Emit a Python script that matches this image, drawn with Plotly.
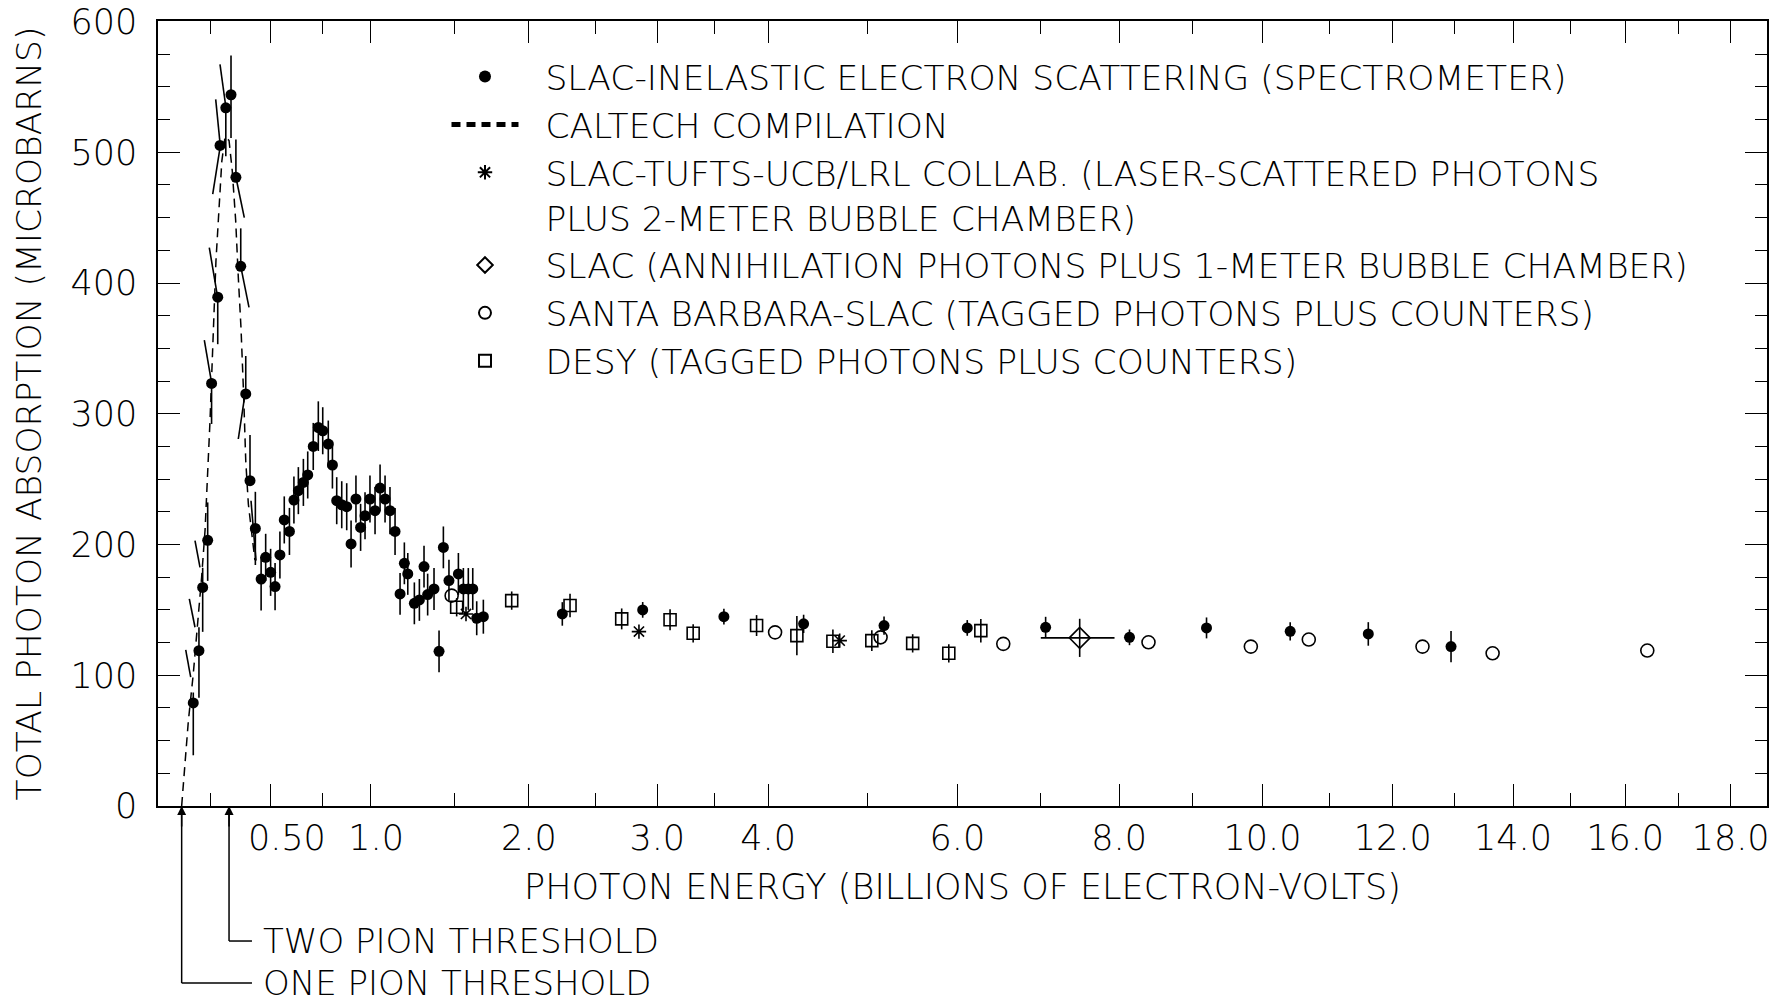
import numpy as np
import plotly.graph_objects as go

# ---------------- data (photon energy E in GeV, cross section in microbarns) ----------------
slac_E = [0.187, 0.208, 0.222, 0.241, 0.256, 0.280, 0.289, 0.312, 0.333, 0.353, 0.373, 0.394,
          0.412, 0.435, 0.460, 0.480, 0.502, 0.522, 0.544, 0.564, 0.588, 0.609, 0.630, 0.654,
          0.675, 0.702, 0.727, 0.749, 0.777, 0.798, 0.820, 0.846, 0.872, 0.895, 0.921, 0.946,
          0.970, 0.997, 1.025, 1.053, 1.081, 1.109, 1.138, 1.167, 1.192, 1.212, 1.251, 1.281,
          1.309, 1.331, 1.370, 1.401, 1.428, 1.463, 1.523, 1.555, 1.587, 1.616, 1.642, 1.686,
          2.244, 2.878, 3.586, 4.347, 5.181, 6.114, 7.058, 8.138, 9.194, 10.41, 11.61, 12.95]
slac_sig = [78.8, 118.8, 167.2, 203.2, 323.2, 389.2, 505.2, 534.0, 544.0, 480.8, 412.8, 315.2,
            248.8, 212.3, 173.6, 190.2, 178.7, 167.8, 192.0, 218.8, 210.0, 234.0, 241.2, 247.5,
            253.2, 275.0, 289.5, 287.0, 276.8, 260.8, 233.5, 230.4, 228.9, 200.4, 234.8, 213.1,
            222.0, 234.8, 225.9, 243.2, 234.8, 225.9, 210.0, 162.2, 185.6, 177.5, 155.0, 157.6,
            183.1, 161.7, 166.0, 118.3, 197.8, 172.4, 177.5, 166.0, 166.0, 166.0, 143.6, 144.8,
            146.9, 150.0, 144.8, 139.3, 138.0, 136.2, 136.7, 129.0, 136.2, 133.6, 131.6, 121.9]
slac_err_up = [8, 18, 15, 29, 0, 0, 0, 0, 30, 29, 29, 29,
               35, 28, 17, 18, 18, 18, 18, 18, 18, 18, 18, 18,
               18, 18, 20, 18, 18, 18, 18, 18, 18, 18, 18, 18,
               18, 18, 18, 18, 18, 18, 18, 16, 16, 16, 16, 16,
               16, 16, 16, 16, 16, 16, 16, 16, 16, 16, 13, 13,
               9, 6, 6, 7, 7, 6, 8, 6, 8, 7, 9, 12]
slac_err_dn = [40, 36, 34, 31, 31, 36, 0, 37, 33, 0, 0, 0,
               0, 28, 24, 18, 18, 18, 18, 18, 18, 18, 18, 18,
               18, 18, 18, 18, 18, 18, 18, 18, 18, 18, 18, 18,
               18, 18, 18, 18, 18, 18, 18, 16, 16, 16, 16, 16,
               16, 16, 16, 16, 16, 16, 16, 16, 16, 16, 13, 13,
               9, 6, 6, 7, 7, 6, 8, 6, 8, 7, 9, 12]

# tilted error bars near the first resonance: (E0, sigma0) -> (E1, sigma1)
tilt_E0 = [0.1595, 0.1725, 0.1934, 0.2282, 0.2472, 0.2720, 0.2901, 0.2889, 0.3563, 0.3741, 0.3909, 0.4163]
tilt_s0 = [119.4, 158.4, 202.9, 356.3, 427.1, 540.5, 504.8, 567.3, 478.0, 411.8, 315.0, 233.5]
tilt_E1 = [0.1775, 0.1934, 0.2119, 0.2564, 0.2798, 0.2901, 0.2604, 0.3116, 0.3879, 0.4078, 0.3629, 0.4377]
tilt_s1 = [98.5, 136.7, 182.5, 323.2, 388.9, 504.8, 468.0, 535.4, 450.0, 381.3, 280.7, 187.7]

caltech_E = [0.145, 0.169, 0.187, 0.203, 0.218, 0.231, 0.250, 0.273, 0.282, 0.296, 0.309,
             0.325, 0.338, 0.352, 0.363, 0.374, 0.385, 0.394, 0.405, 0.422, 0.433]
caltech_sig = [0, 65, 101, 137, 175, 211, 295, 417, 448, 493, 512,
               509, 486, 448, 404, 366, 315, 264, 231, 206, 188]

tufts_E = [1.572, 2.847, 4.713]
tufts_sig = [146.9, 133.4, 126.5]

annih_E = [7.488]
annih_sig = [128.6]
annih_E_lo = [6.998]
annih_E_hi = [7.940]
annih_err = [14.6]

sb_E = [1.480, 4.067, 5.144, 6.540, 8.393, 9.829, 10.69, 12.48, 13.65, 16.41]
sb_sig = [160.9, 132.8, 129.0, 124.0, 125.2, 121.9, 127.3, 121.9, 116.8, 118.9]

desy_E = [1.512, 1.879, 2.302, 2.706, 3.109, 3.310, 3.890, 4.280, 4.643, 5.050, 5.494, 5.901, 6.273]
desy_sig = [152.0, 157.1, 153.3, 143.1, 142.5, 132.1, 138.0, 130.3, 126.0, 126.5, 124.4, 116.8, 134.1]
desy_err = [7, 7, 9, 8, 8, 7, 8, 15, 9, 8, 7, 7, 9]

threshold_E = [0.145, 0.325]
threshold_labels = ["ONE PION THRESHOLD", "TWO PION THRESHOLD"]

major_E = [0.5, 1, 2, 3, 4, 6, 8, 10, 12, 14, 16, 18]
major_labels = ["\u00a0\u00a0\u00a00.50", "\u00a01.0", "2.0", "3.0", "4.0", "6.0", "8.0",
                "10.0", "12.0", "14.0", "16.0", "18.0"]
minor_E = [0.25, 0.75, 1.5, 2.5, 3.5, 5, 7, 9, 11, 13, 15, 17]
y_major = [0, 100, 200, 300, 400, 500, 600]
y_minor = [v for v in range(0, 601, 25) if v % 100]

# ---------------- scale: axis is linear in the invariant mass W = sqrt(M^2 + 2 M E) ----------------
M = 0.938272


def to_w(e):
    e = np.asarray(e, dtype=float)
    return np.sqrt(M * M + 2 * M * e)


FONT = "DejaVu Sans"
SP = "\u00a0\u00a0"
fig = go.Figure()

# tilted bars
tx, ty = [], []
for e0, s0, e1, s1 in zip(tilt_E0, tilt_s0, tilt_E1, tilt_s1):
    tx += [float(to_w(e0)), float(to_w(e1)), None]
    ty += [s0, s1, None]
fig.add_trace(go.Scatter(x=tx, y=ty, mode="lines", line=dict(color="black", width=1.6),
                         showlegend=False, hoverinfo="skip"))

fig.add_trace(go.Scatter(
    x=to_w(slac_E), y=slac_sig, mode="markers",
    name=SP + "SLAC-INELASTIC ELECTRON SCATTERING (SPECTROMETER)", legendgroup="a",
    marker=dict(symbol="circle", size=11, color="black"),
    error_y=dict(type="data", symmetric=False, array=slac_err_up, arrayminus=slac_err_dn,
                 color="black", thickness=1.6, width=0)))

fig.add_trace(go.Scatter(
    x=to_w(caltech_E), y=caltech_sig, mode="lines",
    name=SP + "CALTECH COMPILATION", legendgroup="b",
    line=dict(color="black", width=1.5, dash="9px,6px")))

fig.add_trace(go.Scatter(
    x=to_w(tufts_E), y=tufts_sig, mode="markers",
    name=SP + "SLAC-TUFTS-UCB/LRL COLLAB. (LASER-SCATTERED PHOTONS<br>" + SP
         + "PLUS 2-METER BUBBLE CHAMBER)",
    legendgroup="c",
    marker=dict(symbol="asterisk-open", size=12, color="black", line=dict(width=1.6, color="black"))))

aw = to_w(annih_E)
fig.add_trace(go.Scatter(
    x=aw, y=annih_sig, mode="markers",
    name=SP + "SLAC (ANNIHILATION PHOTONS PLUS 1-METER BUBBLE CHAMBER)", legendgroup="d",
    marker=dict(symbol="diamond-open", size=16, color="black", line=dict(width=1.6, color="black")),
    error_x=dict(type="data", symmetric=False, array=to_w(annih_E_hi) - aw,
                 arrayminus=aw - to_w(annih_E_lo), color="black", thickness=1.6, width=0),
    error_y=dict(type="data", array=annih_err, color="black", thickness=1.6, width=0)))

fig.add_trace(go.Scatter(
    x=to_w(sb_E), y=sb_sig, mode="markers",
    name=SP + "SANTA BARBARA-SLAC (TAGGED PHOTONS PLUS COUNTERS)", legendgroup="e",
    marker=dict(symbol="circle-open", size=13, color="black", line=dict(width=1.6, color="black"))))

fig.add_trace(go.Scatter(
    x=to_w(desy_E), y=desy_sig, mode="markers",
    name=SP + "DESY (TAGGED PHOTONS PLUS COUNTERS)", legendgroup="f",
    marker=dict(symbol="square-open", size=12, color="black", line=dict(width=1.6, color="black")),
    error_y=dict(type="data", array=desy_err, color="black", thickness=1.6, width=0)))

# threshold leaders and labels
label_y = [-0.2255, -0.172]
for e, lab, yp in zip(threshold_E, threshold_labels, label_y):
    w = float(to_w(e))
    fig.add_shape(type="line", xref="x", yref="paper", x0=w, x1=w, y0=yp, y1=-0.01,
                  line=dict(color="black", width=1.5))
    fig.add_shape(type="line", xref="x", yref="paper", x0=w, x1=1.292, y0=yp, y1=yp,
                  line=dict(color="black", width=1.5))
    fig.add_annotation(x=w, y=0, xref="x", yref="y", text="", showarrow=True, arrowhead=2,
                       arrowsize=1.2, arrowwidth=1.5, arrowcolor="black", ax=0, ay=22, standoff=0)
    fig.add_annotation(x=0.064, y=yp, xref="paper", yref="paper", text=lab, showarrow=False,
                       xanchor="left", yanchor="middle",
                       font=dict(family=FONT, size=34, color="black", weight=200))

axis_common = dict(showline=True, linecolor="black", linewidth=1.6, mirror="ticks",
                   ticks="inside", ticklen=22, tickwidth=1.4, tickcolor="black",
                   showgrid=False, zeroline=False, ticklabeloverflow="allow",
                   tickfont=dict(family=FONT, size=35, color="black", weight=200))

fig.update_xaxes(range=[1.0, 6.0], tickmode="array", tickvals=to_w(major_E), ticktext=major_labels,
                 minor=dict(tickmode="array", tickvals=to_w(minor_E), ticks="inside", ticklen=13,
                            tickwidth=1.4, tickcolor="black", showgrid=False),
                 title=dict(text="PHOTON ENERGY (BILLIONS OF ELECTRON-VOLTS)", standoff=18,
                            font=dict(family=FONT, size=35, color="black", weight=200)),
                 **axis_common)
fig.update_yaxes(range=[0, 600.4], tickmode="array", tickvals=y_major,
                 minor=dict(tickmode="array", tickvals=y_minor, ticks="inside", ticklen=12,
                            tickwidth=1.4, tickcolor="black", showgrid=False),
                 ticklabelstandoff=12,
                 title=dict(text="TOTAL PHOTON ABSORPTION (MICROBARNS)", standoff=18,
                            font=dict(family=FONT, size=34.5, color="black", weight=200)),
                 **axis_common)

fig.update_layout(
    width=1769, height=1006,
    margin=dict(l=158, r=2, t=21, b=200, autoexpand=False),
    paper_bgcolor="white", plot_bgcolor="white",
    font=dict(family=FONT, size=34, color="black", weight=200),
    showlegend=True,
    legend=dict(x=0.1793, y=0.966, xanchor="left", yanchor="top", bgcolor="rgba(0,0,0,0)",
                font=dict(family=FONT, size=34.5, color="black", weight=200),
                itemwidth=67, tracegroupgap=0, valign="top", itemsizing="constant"),
)

fig.write_html("out.html")
